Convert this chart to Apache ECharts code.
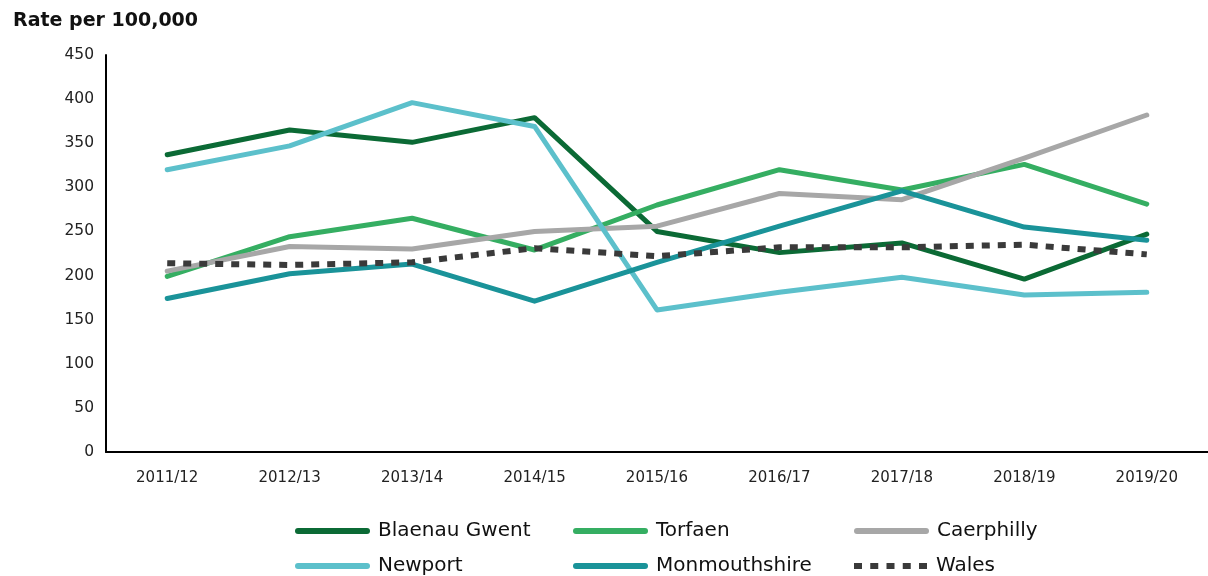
<!DOCTYPE html>
<html>
<head>
<meta charset="utf-8">
<script src="https://cdn.jsdelivr.net/npm/echarts@6/dist/echarts.min.js"></script>
<style>
  html, body { margin: 0; padding: 0; background: #fff; }
  #chart { width: 1208px; height: 576px; }
</style>
</head>
<body>
<div id="chart"></div>
<script>
// Rate per 100,000 by local authority, 2011/12 to 2019/20
const categories = ['2011/12', '2012/13', '2013/14', '2014/15', '2015/16', '2016/17', '2017/18', '2018/19', '2019/20'];
const blaenauGwent = [337, 365, 351, 379, 250, 226, 237, 196, 247];
const torfaen = [199, 244, 265, 229, 280, 320, 297, 326, 281];
const caerphilly = [205, 233, 230, 250, 256, 293, 286, 333, 382];
const newport = [320, 347, 396, 369, 161, 181, 198, 178, 181];
const monmouthshire = [174, 202, 213, 171, 215, 256, 296, 255, 240];
const wales = [214, 212, 215, 231, 222, 232, 232, 235, 224];
const yTicks = { min: 0, max: 450, interval: 50 };

const FONT = '"DejaVu Sans", sans-serif';

const seriesDefs = [
  { name: 'Blaenau Gwent', data: blaenauGwent, color: '#0b6a35' },
  { name: 'Torfaen', data: torfaen, color: '#35ae62' },
  { name: 'Caerphilly', data: caerphilly, color: '#a7a7a7' },
  { name: 'Newport', data: newport, color: '#5cc0cb' },
  { name: 'Monmouthshire', data: monmouthshire, color: '#1a9399' },
  { name: 'Wales', data: wales, color: '#3a3a3a', dashed: true }
];

// legend icons: a rounded bar, and a row of squares for the dotted series
const solidIcon = 'path://M3,0H72A3,3,0,0,1,72,6H3A3,3,0,0,1,3,0Z';
const dottedIcon = 'path://M0,0h8v6h-8z M16.25,0h8v6h-8z M32.5,0h8v6h-8z M48.75,0h8v6h-8z M65,0h8v6h-8z';

const legendCols = [290, 568, 849];
const legendRows = [516, 551];

const legends = seriesDefs.map((s, i) => ({
  left: legendCols[i % 3],
  top: legendRows[Math.floor(i / 3)],
  orient: 'horizontal',
  itemWidth: 75,
  itemHeight: 6,
  selectedMode: false,
  itemStyle: { borderWidth: 0 },
  textStyle: {
    fontFamily: FONT, fontSize: 20, fontWeight: 'normal', color: '#111',
    padding: [0, 0, 0, 3]
  },
  data: [{ name: s.name, icon: s.dashed ? dottedIcon : solidIcon, itemStyle: { color: s.color, borderWidth: 0 } }]
}));

const chart = echarts.init(document.getElementById('chart'), null, { renderer: 'canvas' });
chart.setOption({
  animation: false,
  backgroundColor: '#ffffff',
  title: {
    text: 'Rate per 100,000',
    left: 8, top: 7,
    textStyle: { fontFamily: FONT, fontSize: 19, fontWeight: 'bold', color: '#111' }
  },
  legend: legends,
  grid: { left: 106, right: 0, top: 55, bottom: 124, containLabel: false },
  xAxis: {
    type: 'category',
    data: categories,
    boundaryGap: true,
    axisLine: { show: true, lineStyle: { color: '#000', width: 2 } },
    axisTick: { show: false },
    splitLine: { show: false },
    axisLabel: { margin: 19, fontFamily: FONT, fontSize: 15, color: '#222' }
  },
  yAxis: {
    type: 'value',
    min: yTicks.min, max: yTicks.max, interval: yTicks.interval,
    axisLine: { show: true, lineStyle: { color: '#000', width: 2 } },
    axisTick: { show: false },
    splitLine: { show: false },
    axisLabel: { margin: 12, fontFamily: FONT, fontSize: 15.5, color: '#222' }
  },
  series: seriesDefs.map(s => ({
    name: s.name,
    type: 'line',
    data: s.data,
    showSymbol: false,
    symbol: 'none',
    color: s.color,
    lineStyle: s.dashed
      ? { color: s.color, width: 6, type: [8, 8], cap: 'butt', join: 'miter' }
      : { color: s.color, width: 5, cap: 'round', join: 'round' },
    emphasis: { disabled: true }
  }))
});
</script>
</body>
</html>
